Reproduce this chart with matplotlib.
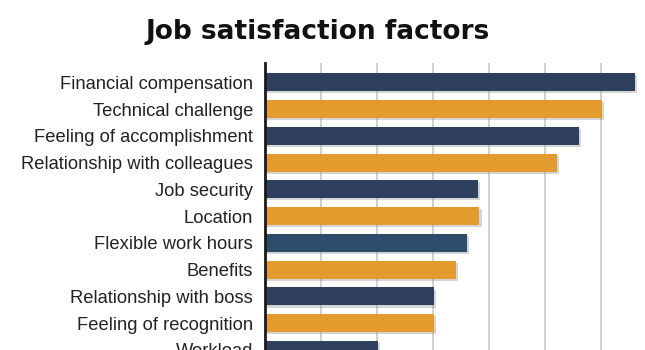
import matplotlib.pyplot as plt
import matplotlib.patheffects as pe

# data (units = one gridline step)
factors = ['Financial compensation', 'Technical challenge', 'Feeling of accomplishment',
           'Relationship with colleagues', 'Job security', 'Location', 'Flexible work hours',
           'Benefits', 'Relationship with boss', 'Feeling of recognition', 'Workload']
scores = [6.61, 6.01, 5.61, 5.21, 3.81, 3.83, 3.61, 3.41, 3.02, 3.02, 2.02]
colors = ['#2e3f5f', '#e39b2e', '#2e3f5f', '#e39b2e', '#2e3f5f', '#e39b2e',
          '#2c4d6a', '#e39b2e', '#2e3f5f', '#e39b2e', '#2e3f5f']

W, H = 645, 350
fig = plt.figure(figsize=(W / 100, H / 100), dpi=100)
# axes runs off the bottom of the picture, like the reference crop
ax = fig.add_axes([265 / W, 0, (645 - 265) / W, (350 - 63) / H])

pos = list(range(len(factors)))
bars = ax.barh(pos, scores, height=0.67, color=colors, zorder=3)
for b in bars:
    b.set_path_effects([pe.SimplePatchShadow(offset=(1.5, -1.5), shadow_rgbFace='#888888', alpha=0.35),
                        pe.Normal()])

ax.set_ylim(9.907, -0.72)
ax.set_xlim(0, (645 - 265) / 56.0)
ax.set_xticks([1, 2, 3, 4, 5, 6])
ax.set_xticklabels([])
ax.grid(axis='x', color='#c8c8c8', linewidth=1.2, zorder=0)
ax.set_yticks(pos)
ax.set_yticklabels(factors, fontsize=13.2, family='Liberation Sans', color='#222222')
ax.tick_params(axis='both', length=0)
ax.tick_params(axis='y', pad=8.5)
for s in ['top', 'right', 'bottom']:
    ax.spines[s].set_visible(False)
ax.spines['left'].set_linewidth(2)
ax.spines['left'].set_color('#1a1a1a')
ax.spines['left'].set_zorder(4)

fig.text(317.5 / W, 1 - 32 / H, 'Job satisfaction factors', ha='center', va='center',
         fontsize=19, fontweight='bold', family='DejaVu Sans', color='#111111')

fig.savefig('out.png', dpi=100)
